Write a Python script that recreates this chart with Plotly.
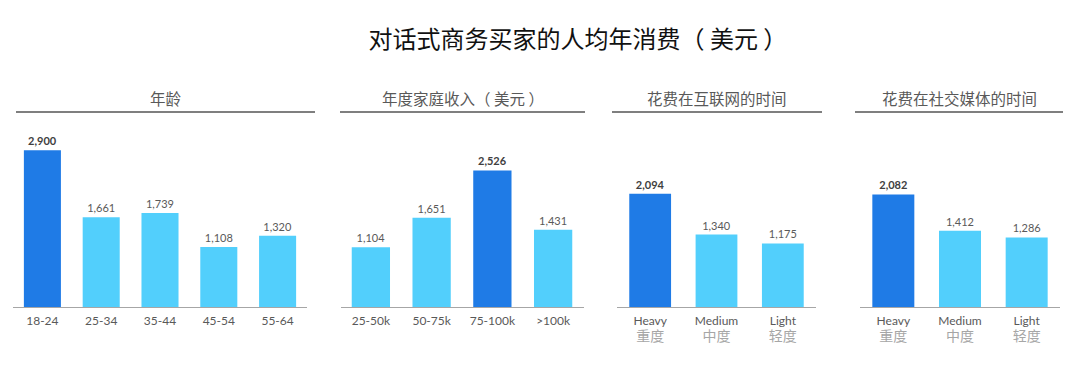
import plotly.graph_objects as go

title = "对话式商务买家的人均年消费（ 美元 ）"

panel_titles = ["年龄", "年度家庭收入（ 美元 ）", "花费在互联网的时间", "花费在社交媒体的时间"]

age_cats = ["18-24", "25-34", "35-44", "45-54", "55-64"]
age_vals = [2900, 1661, 1739, 1108, 1320]

income_cats = ["25-50k", "50-75k", "75-100k", ">100k"]
income_vals = [1104, 1651, 2526, 1431]

internet_cats = ["Heavy", "Medium", "Light"]
internet_cats_zh = ["重度", "中度", "轻度"]
internet_vals = [2094, 1340, 1175]

social_cats = ["Heavy", "Medium", "Light"]
social_cats_zh = ["重度", "中度", "轻度"]
social_vals = [2082, 1412, 1286]

W, H = 1080, 369
DARK = "#1f7be6"
LIGHT = "#52cffc"
FONT = "Lato, 'Noto Sans CJK SC', sans-serif"
CJK = "'Noto Sans CJK SC', sans-serif"

def px_x(p):
    return p / W

def px_y(p):
    return 1 - p / H

panels = [
    dict(cats=age_cats, zh=None, vals=age_vals, dom=(13, 307), line=(16, 315)),
    dict(cats=income_cats, zh=None, vals=income_vals, dom=(340.5, 583.5), line=(340, 585)),
    dict(cats=internet_cats, zh=internet_cats_zh, vals=internet_vals, dom=(617, 816), line=(612, 822)),
    dict(cats=social_cats, zh=social_cats_zh, vals=social_vals, dom=(860, 1060), line=(855, 1063)),
]

base_px = 307
top_px = 130
units_per_px = 18.5
ymax = (base_px - top_px) * units_per_px

fig = go.Figure()
layout = dict(
    width=W, height=H,
    margin=dict(l=0, r=0, t=0, b=0),
    paper_bgcolor="white", plot_bgcolor="white",
    showlegend=False,
    font=dict(family=FONT, color="#595959"),
    bargap=0.37,
    title=dict(text=title, x=px_x(578), xanchor="center", y=px_y(40), yanchor="middle",
               font=dict(family=CJK, size=24, color="#111111")),
)
shapes = []
annotations = []

for i, p in enumerate(panels):
    n = i + 1
    xa = "x" if n == 1 else f"x{n}"
    ya = "y" if n == 1 else f"y{n}"
    vals = p["vals"]
    mx = max(vals)
    colors = [DARK if v == mx else LIGHT for v in vals]
    texts = [(f"<b>{v:,}</b>" if v == mx else f"{v:,}") for v in vals]
    tcolors = ["#404040" if v == mx else "#595959" for v in vals]
    fig.add_trace(go.Bar(
        x=list(range(len(vals))), y=vals, marker=dict(color=colors, line=dict(width=0)),
        text=texts, textposition="outside", cliponaxis=False,
        textfont=dict(size=11, color=tcolors, family=FONT),
        xaxis=xa, yaxis=ya, hoverinfo="skip",
    ))
    if p["zh"]:
        ticktext = [f"{c}<br><span style='color:#a6a6a6;font-size:14px'>{z}</span>" for c, z in zip(p["cats"], p["zh"])]
    else:
        ticktext = p["cats"]
    xkey = "xaxis" if n == 1 else f"xaxis{n}"
    ykey = "yaxis" if n == 1 else f"yaxis{n}"
    layout[xkey] = dict(
        domain=[px_x(p["dom"][0]), px_x(p["dom"][1])],
        anchor=ya, range=[-0.5, len(vals) - 0.5],
        tickmode="array", tickvals=list(range(len(vals))), ticktext=ticktext,
        tickfont=dict(size=12, color="#595959", family=FONT),
        ticklabelstandoff=3,
        showline=True, linecolor="#a6a6a6", linewidth=1,
        showgrid=False, zeroline=False, ticks="", fixedrange=True,
    )
    layout[ykey] = dict(
        domain=[px_y(base_px), px_y(top_px)], anchor=xa,
        range=[0, ymax], visible=False, showgrid=False, zeroline=False, fixedrange=True,
    )
    shapes.append(dict(type="line", xref="paper", yref="paper",
                       x0=px_x(p["line"][0]), x1=px_x(p["line"][1]),
                       y0=px_y(112), y1=px_y(112),
                       line=dict(color="#7f7f7f", width=2)))
    annotations.append(dict(text=panel_titles[i], xref="paper", yref="paper",
                            x=px_x((p["line"][0] + p["line"][1]) / 2), y=px_y(98),
                            xanchor="center", yanchor="middle", showarrow=False,
                            font=dict(family=CJK, size=15.5, color="#595959")))

layout["shapes"] = shapes
layout["annotations"] = annotations
fig.update_layout(**layout)
fig.write_html("out.html", config={"displayModeBar": False},
               post_script="document.body.style.margin='0';document.body.style.overflow='hidden';")
